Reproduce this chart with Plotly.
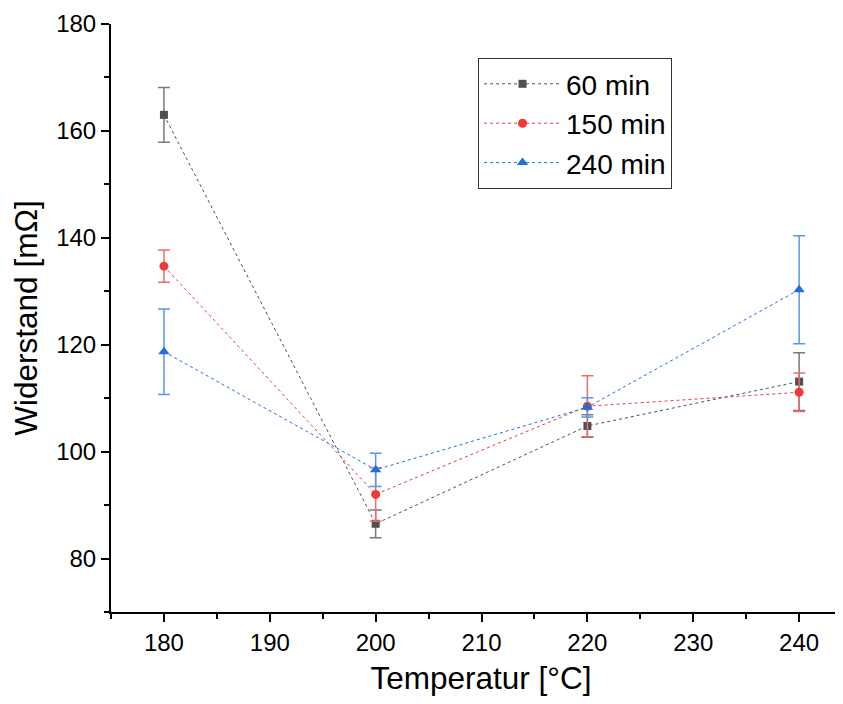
import plotly.graph_objects as go

temps = [180, 200, 220, 240]

r60 = [163.0, 86.5, 104.8, 113.1]
e60 = [5.1, 2.6, 2.1, 5.4]
r150 = [134.7, 92.0, 108.5, 111.1]
e150 = [3.0, 5.0, 5.7, 3.6]
r240 = [118.7, 96.6, 108.3, 130.3]
e240 = [8.0, 3.1, 1.8, 10.1]

names = ["60 min", "150 min", "240 min"]
series = [r60, r150, r240]
errors = [e60, e150, e240]
line_colors = ["#505050", "#f03a3a", "#1f6fe0"]
err_colors = ["#7a7a7a", "#f06a6a", "#5a97e8"]
symbols = ["square", "circle", "triangle-up"]
sizes = [8, 9, 10]

FONT = "Arial, Liberation Sans, sans-serif"

fig = go.Figure()
for n, y, e, lc, ec, s, sz in zip(names, series, errors, line_colors, err_colors, symbols, sizes):
    fig.add_trace(go.Scatter(
        x=temps, y=y, name=n, mode="lines+markers",
        line=dict(color=lc, width=1, dash="3px,3px"),
        marker=dict(symbol=s, size=sz, color=lc),
        error_y=dict(type="data", array=e, visible=True, color=ec, thickness=1.5, width=6),
    ))

axis_common = dict(
    showline=True, linecolor="black", linewidth=2, mirror=False,
    ticks="outside", ticklen=8, tickwidth=2, tickcolor="black",
    showgrid=False, zeroline=False,
    tickfont=dict(family=FONT, size=24, color="black"),
)

fig.update_xaxes(
    range=[175, 244.9], tickvals=[180, 190, 200, 210, 220, 230, 240],
    minor=dict(ticks="outside", ticklen=5, tickwidth=2, tickcolor="black", dtick=5, tick0=175),
    title=dict(text="Temperatur [°C]", font=dict(family=FONT, size=31.5, color="black"), standoff=12),
    **axis_common,
)
fig.update_yaxes(
    range=[70, 180], tickvals=[80, 100, 120, 140, 160, 180],
    minor=dict(ticks="outside", ticklen=5, tickwidth=2, tickcolor="black", dtick=10, tick0=70),
    title=dict(text="Widerstand [mΩ]", font=dict(family=FONT, size=31.5, color="black"), standoff=10),
    **axis_common,
)

fig.update_layout(
    width=843, height=696,
    margin=dict(l=103, r=0, t=16, b=92),
    plot_bgcolor="white", paper_bgcolor="white",
    legend=dict(
        x=0.496, y=0.942, xanchor="left", yanchor="top",
        bordercolor="#333333", borderwidth=1, bgcolor="white",
        font=dict(family=FONT, size=28, color="black"),
        itemwidth=77, tracegroupgap=0,
    ),
    showlegend=True,
)

fig.write_html("out.html")
